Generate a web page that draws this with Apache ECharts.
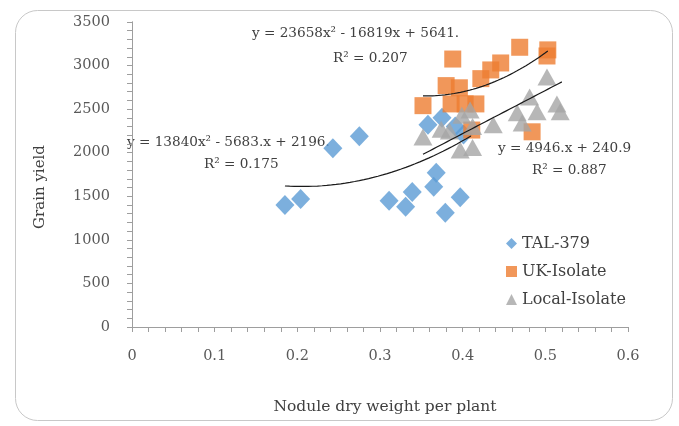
<!DOCTYPE html>
<html>
<head>
<meta charset="utf-8">
<script src="https://cdn.jsdelivr.net/npm/echarts@6/dist/echarts.min.js"></script>
<style>
  html, body { margin: 0; padding: 0; background: #ffffff; }
  #chart { width: 679px; height: 426px; }
</style>
</head>
<body>
<div id="chart"></div>
<script>
// Nodule dry weight per plant (x) vs grain yield (y) for three rhizobium treatments
const talX   = [0.185, 0.204, 0.243, 0.275, 0.311, 0.331, 0.339, 0.358, 0.365, 0.368, 0.375, 0.379, 0.391, 0.397, 0.401];
const talY   = [1400, 1470, 2050, 2190, 1450, 1380, 1550, 2320, 1610, 1770, 2400, 1310, 2300, 1490, 2210];

const ukX    = [0.352, 0.380, 0.388, 0.396, 0.386, 0.403, 0.411, 0.416, 0.422, 0.434, 0.446, 0.469, 0.484, 0.502, 0.503];
const ukY    = [2540, 2770, 3075, 2745, 2560, 2560, 2260, 2560, 2850, 2950, 3030, 3210, 2240, 3110, 3180];

const localX = [0.352, 0.374, 0.384, 0.397, 0.399, 0.409, 0.412, 0.412, 0.437, 0.466, 0.472, 0.481, 0.490, 0.502, 0.514, 0.518];
const localY = [2180, 2270, 2250, 2030, 2430, 2490, 2300, 2060, 2320, 2460, 2340, 2640, 2470, 2870, 2560, 2470];

// Fitted trend lines: polynomial coefficients [c2, c1, c0] and x range covered
const talFit   = [13840, -5683, 2196];
const ukFit    = [23658, -16819, 5641];
const localFit = [0, 4946, 240.9];
const talRange   = [0.185, 0.41];
const ukRange    = [0.352, 0.503];
const localRange = [0.352, 0.52];

// Axis ticks
const xTicks = [0, 0.1, 0.2, 0.3, 0.4, 0.5, 0.6];
const yTicks = [0, 500, 1000, 1500, 2000, 2500, 3000, 3500];

function pairs(xs, ys) { return xs.map((x, i) => [x, ys[i]]); }
function curve(c, range) {
  const pts = [];
  const n = 40;
  for (let i = 0; i <= n; i++) {
    const x = range[0] + (range[1] - range[0]) * i / n;
    pts.push([x, c[0] * x * x + c[1] * x + c[2]]);
  }
  return pts;
}

const FONT = 'DejaVu Serif';
const axisColor = '#9e9e9e';
const textColor = '#404040';

function xAxisDef(inside, showLabels) {
  return {
    type: 'value', min: xTicks[0], max: xTicks[xTicks.length - 1], interval: 0.1,
    axisLine: { show: true, lineStyle: { color: axisColor, width: 1 } },
    axisTick: { show: true, inside: inside, length: 5, lineStyle: { color: axisColor, width: 1 } },
    minorTick: { show: true, splitNumber: 5, length: 5, lineStyle: { color: axisColor, width: 1 } },
    splitLine: { show: false },
    axisLabel: { show: showLabels, margin: 22, color: '#595959', fontFamily: FONT, fontSize: 14.5,
                 formatter: v => String(Math.round(v * 10) / 10) }
  };
}
function yAxisDef(inside, showLabels) {
  return {
    type: 'value', min: yTicks[0], max: yTicks[yTicks.length - 1], interval: 500,
    axisLine: { show: true, lineStyle: { color: axisColor, width: 1 } },
    axisTick: { show: true, inside: inside, length: 5, lineStyle: { color: axisColor, width: 1 } },
    minorTick: { show: true, splitNumber: 5, length: 5, lineStyle: { color: axisColor, width: 1 } },
    splitLine: { show: false },
    axisLabel: { show: showLabels, margin: 22, color: '#595959', fontFamily: FONT, fontSize: 14.5,
                 formatter: v => String(v) }
  };
}

function trend(c, range) {
  return {
    type: 'line', data: curve(c, range), showSymbol: false, silent: true, smooth: false,
    lineStyle: { color: '#1a1a1a', width: 1.2 }, z: 5
  };
}

const chart = echarts.init(document.getElementById('chart'), null, { renderer: 'canvas' });
chart.setOption({
  animation: false,
  backgroundColor: '#ffffff',
  grid: { left: 132, right: 51, top: 22, bottom: 99 },
  xAxis: [xAxisDef(false, true), xAxisDef(true, false)],
  yAxis: [yAxisDef(false, true), yAxisDef(true, false)],
  legend: {
    orient: 'vertical', left: 501, top: 230, itemGap: 11,
    itemWidth: 11, itemHeight: 11,
    textStyle: { fontFamily: FONT, fontSize: 16, color: textColor, lineHeight: 17 },
    data: ['TAL-379', 'UK-Isolate', 'Local-Isolate']
  },
  series: [
    { name: 'TAL-379', type: 'scatter', symbol: 'diamond', symbolSize: [19, 20],
      itemStyle: { color: '#5b9bd5' }, data: pairs(talX, talY), z: 2 },
    { name: 'UK-Isolate', type: 'scatter', symbol: 'rect', symbolSize: 17,
      itemStyle: { color: '#ed7d31' }, data: pairs(ukX, ukY), z: 3 },
    { name: 'Local-Isolate', type: 'scatter', symbol: 'triangle', symbolSize: [19, 17],
      itemStyle: { color: '#a5a5a5' }, data: pairs(localX, localY), z: 4 },
    trend(talFit, talRange),
    trend(ukFit, ukRange),
    trend(localFit, localRange)
  ],
  graphic: [
    { type: 'rect', left: 13, top: 8, z: -1, silent: true,
      shape: { width: 657, height: 410, r: 22 },
      style: { fill: 'none', stroke: '#c8c8c8', lineWidth: 1 } },
    { type: 'text', x: 252, y: 33, style: { text: 'y = 23658x² - 16819x + 5641.', fontFamily: FONT, fontSize: 13.6, fill: textColor, textVerticalAlign: 'middle' } },
    { type: 'text', x: 333, y: 58, style: { text: 'R² = 0.207', fontFamily: FONT, fontSize: 13.6, fill: textColor, textVerticalAlign: 'middle' } },
    { type: 'text', x: 127, y: 142, style: { text: 'y = 13840x² - 5683.x + 2196.', fontFamily: FONT, fontSize: 13.6, fill: textColor, textVerticalAlign: 'middle' } },
    { type: 'text', x: 204, y: 164, style: { text: 'R² = 0.175', fontFamily: FONT, fontSize: 13.6, fill: textColor, textVerticalAlign: 'middle' } },
    { type: 'text', x: 498, y: 148, style: { text: 'y = 4946.x + 240.9', fontFamily: FONT, fontSize: 13.6, fill: textColor, textVerticalAlign: 'middle' } },
    { type: 'text', x: 532, y: 170, style: { text: 'R² = 0.887', fontFamily: FONT, fontSize: 13.6, fill: textColor, textVerticalAlign: 'middle' } },
    { type: 'text', x: 40, y: 187, rotation: Math.PI / 2,
      style: { text: 'Grain yield', fontFamily: FONT, fontSize: 15, fill: textColor, textAlign: 'center', textVerticalAlign: 'middle' } },
    { type: 'text', x: 385, y: 407,
      style: { text: 'Nodule dry weight per plant', fontFamily: FONT, fontSize: 15.5, fill: textColor, textAlign: 'center', textVerticalAlign: 'middle' } }
  ]
});
</script>
</body>
</html>
